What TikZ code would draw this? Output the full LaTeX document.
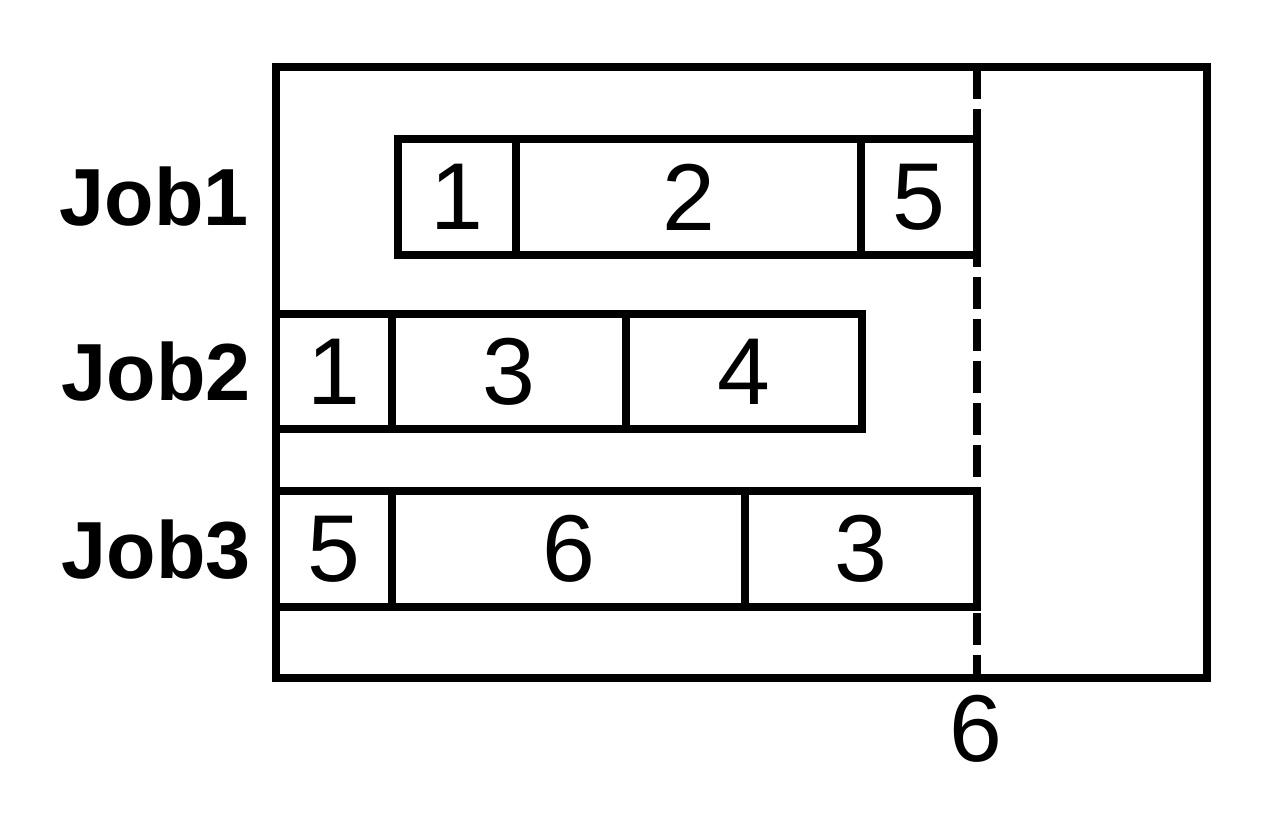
\documentclass[tikz,border=0pt]{standalone}
\usepackage{fontspec}
\setmainfont{Liberation Sans}
\begin{document}
\begin{tikzpicture}[x=0.5pt,y=-0.5pt,
  thick line/.style={line width=4pt},
  cellbox/.style={draw,line width=4pt,rectangle,inner sep=0pt,font=\fontsize{47.5}{50}\selectfont},
  joblabel/.style={inner sep=0pt,font=\fontsize{40.5}{44}\selectfont\bfseries}]
\useasboundingbox (0,0) rectangle (1280,821);
% outer frame
\draw[thick line] (276,67) rectangle (1207,678);
% dashed deadline
\coordinate (dtop) at (977,67);
\coordinate (dbot) at (977,678);
\draw[thick line,dash pattern=on 16pt off 5pt] (dtop) -- (dbot);
\newcommand{\mycell}[6]{%
  \node[cellbox,minimum width={(#4-#2)*0.5pt},minimum height={(#5-#3)*0.5pt}]
    (#1) at ({(#2+#4)/2},{(#3+#5)/2}) {#6};}
% Job1
\mycell{a1}{398}{139}{516}{255}{1}
\mycell{a2}{516}{139}{861}{255}{2}
\mycell{a3}{861}{139}{977}{255}{5}
% Job2
\mycell{b1}{276}{314}{392}{429}{1}
\mycell{b2}{392}{314}{626}{429}{3}
\mycell{b3}{626}{314}{862}{429}{4}
% Job3
\mycell{c1}{276}{491}{392}{607}{5}
\mycell{c2}{392}{491}{745}{607}{6}
\mycell{c3}{745}{491}{977}{607}{3}
% labels
\node[joblabel] (j1) at (154,197) {Job1};
\node[joblabel] (j2) at (156,372) {Job2};
\node[joblabel] (j3) at (156,550) {Job3};
\node[inner sep=0pt,font=\fontsize{47.5}{50}\selectfont] (six) at (976,729) {6};
\end{tikzpicture}
\end{document}
